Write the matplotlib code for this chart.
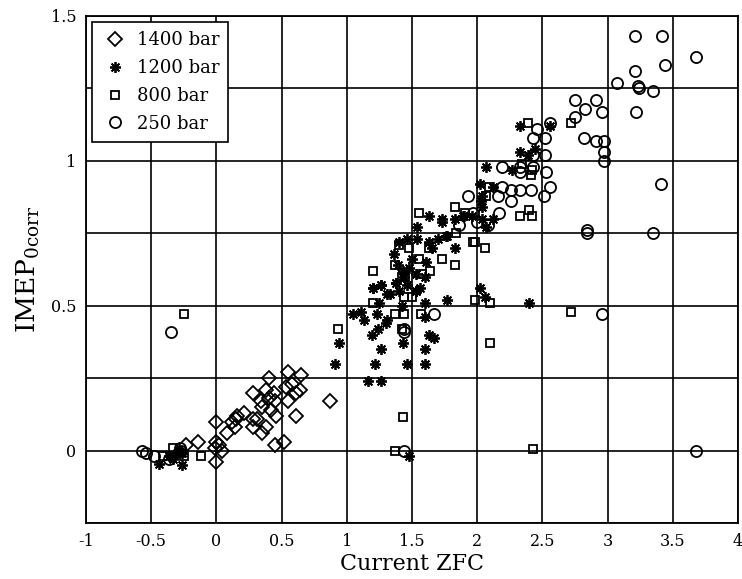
import numpy as np
import matplotlib
matplotlib.use("Agg")
import matplotlib.pyplot as plt

# 1400 bar (diamonds)
x1400 = [-0.23, -0.14, 0.0, -0.01, 0.0, 0.04, 0.0, 0.08, 0.14, 0.15, 0.16, 0.21, 0.28, 0.31,
         0.28, 0.38, 0.35, 0.35, 0.42, 0.46, 0.45, 0.52, 0.28, 0.34, 0.40, 0.38, 0.44, 0.53,
         0.55, 0.61, 0.65, 0.55, 0.45, 0.40, 0.58, 0.64, 0.61, 0.875, 0.12, 0.02]
y1400 = [0.02, 0.03, 0.10, 0.01, 0.03, 0.00, -0.04, 0.06, 0.08, 0.11, 0.12, 0.13, 0.11, 0.11,
         0.08, 0.08, 0.06, 0.15, 0.14, 0.12, 0.02, 0.03, 0.20, 0.17, 0.25, 0.21, 0.20, 0.22,
         0.27, 0.20, 0.26, 0.17, 0.17, 0.18, 0.23, 0.21, 0.12, 0.17, 0.10, 0.02]

# 1200 bar (asterisks)
x1200 = [-0.44, -0.26, -0.36, -0.30, -0.33, -0.26, -0.29,
         0.91, 0.94, 1.16, 1.26, 1.22, 1.26, 1.19, 1.24, 1.05, 1.11, 1.13, 1.23, 1.31, 1.20, 1.26,
         1.25, 1.31, 1.43, 1.46, 1.60, 1.60, 1.63, 1.67, 1.60, 1.60, 1.38, 1.44, 1.53, 1.30, 1.48,
         2.40, 2.02, 2.06, 1.77,
         1.63, 1.73, 1.54, 1.54, 1.40, 1.46, 1.63, 1.70, 1.77, 1.65, 1.83, 1.61, 1.39, 1.48, 1.43,
         1.53, 1.60, 1.20, 1.26, 1.38, 1.46, 1.40, 1.53, 1.33, 1.90,
         2.33, 2.56, 2.33, 2.44, 2.39, 2.07, 2.27, 2.02, 2.12, 2.04, 2.03, 2.04, 1.73, 1.83, 1.89,
         1.96, 2.04, 2.12, 2.07, 1.76, 1.50, 1.36, 1.42, 1.56]
y1200 = [-0.045, -0.05, -0.02, -0.01, -0.03, -0.01, 0.00,
         0.30, 0.37, 0.24, 0.24, 0.30, 0.35, 0.40, 0.42, 0.47, 0.48, 0.45, 0.47, 0.45, 0.56, 0.57,
         0.51, 0.54, 0.37, 0.30, 0.35, 0.30, 0.40, 0.39, 0.46, 0.51, 0.58, 0.60, 0.55, 0.44, -0.02,
         0.51, 0.56, 0.53, 0.52,
         0.81, 0.79, 0.77, 0.73, 0.72, 0.73, 0.72, 0.73, 0.74, 0.70, 0.70, 0.65, 0.64, 0.63, 0.62,
         0.61, 0.60, 0.56, 0.57, 0.58, 0.57, 0.55, 0.55, 0.54, 0.81,
         1.12, 1.12, 1.03, 1.04, 1.02, 0.98, 0.97, 0.92, 0.91, 0.88, 0.86, 0.84, 0.80, 0.80, 0.81,
         0.81, 0.80, 0.80, 0.77, 0.74, 0.66, 0.68, 0.50, 0.56]

# 800 bar (squares)
x800 = [-0.25, 0.93, -0.33, -0.41, -0.25, -0.12, -0.28, 1.37, 1.43, 2.43, 2.72, 2.10, 1.98, 2.10,
        1.37, 1.44, 1.57, 1.42, 1.55, 1.83, 1.84, 1.48, 1.73, 1.55, 1.20, 1.37, 1.64, 1.83, 1.42,
        1.98, 2.39, 2.34, 2.42, 2.41, 2.09, 2.07, 1.91, 2.33, 2.40, 2.42, 2.72, 2.06, 1.40, 1.63,
        1.97, 1.20, 1.44, 1.50, 1.58, 1.45]
y800 = [0.47, 0.42, 0.01, -0.02, -0.02, -0.02, -0.01, 0.00, 0.115, 0.007, 0.48, 0.37, 0.52, 0.51,
        0.47, 0.47, 0.47, 0.42, 0.82, 0.84, 0.75, 0.70, 0.66, 0.66, 0.62, 0.64, 0.62, 0.64, 0.60,
        0.72, 1.13, 0.99, 0.97, 0.95, 0.91, 0.88, 0.82, 0.81, 0.83, 0.81, 1.13, 0.70, 0.71, 0.70,
        0.72, 0.51, 0.53, 0.53, 0.61, 0.60]

# 250 bar (circles)
x250 = [-0.57, -0.54, -0.48, -0.36, -0.27, -0.28, -0.35, 1.44, 1.44, 1.67, 1.44, 3.68, 2.96,
        2.84, 2.84, 3.35, 3.41, 2.97, 2.97, 2.97, 2.91, 2.82, 3.22, 2.75, 2.96, 2.83, 2.91, 2.75,
        3.35, 3.24, 3.23, 3.07, 3.44, 3.21, 3.68, 3.42, 3.21,
        2.56, 2.46, 2.43, 2.52, 2.43, 2.52, 2.19, 2.33, 2.43, 2.33, 2.53, 2.19, 2.26, 2.33, 2.41,
        2.56, 2.51, 1.93, 2.16, 2.26, 2.17, 1.97, 1.86, 2.00, 2.08]
y250 = [0.00, -0.01, -0.02, -0.03, 0.00, 0.01, 0.41, 0.41, 0.42, 0.47, 0.00, 0.00, 0.47,
        0.76, 0.75, 0.75, 0.92, 1.00, 1.03, 1.07, 1.07, 1.08, 1.17, 1.15, 1.17, 1.18, 1.21, 1.21,
        1.24, 1.25, 1.26, 1.27, 1.33, 1.31, 1.36, 1.43, 1.43,
        1.13, 1.11, 1.08, 1.08, 1.02, 1.02, 0.98, 0.98, 0.98, 0.96, 0.96, 0.91, 0.90, 0.90, 0.90,
        0.91, 0.88, 0.88, 0.88, 0.86, 0.82, 0.82, 0.78, 0.79, 0.78]

series_labels = ["1400 bar", "1200 bar", "800 bar", "250 bar"]
xtick_vals = [-1, -0.5, 0, 0.5, 1, 1.5, 2, 2.5, 3, 3.5, 4]
xtick_labels = ["-1", "-0.5", "0", "0.5", "1", "1.5", "2", "2.5", "3", "3.5", "4"]
ytick_vals = [0, 0.5, 1, 1.5]
ytick_labels = ["0", "0.5", "1", "1.5"]
yminor_vals = [-0.25, 0.25, 0.75, 1.25]

plt.rcParams['font.family'] = 'DejaVu Serif'
plt.rcParams['mathtext.fontset'] = 'custom'
plt.rcParams['mathtext.rm'] = 'DejaVu Serif'

fig = plt.figure(figsize=(7.42, 5.79), dpi=100)
ax = fig.add_axes([0.1159, 0.0967, 0.8787, 0.8757])

mk = dict(linestyle='none', color='black', markerfacecolor='none', markeredgewidth=1.3)
ax.plot(x1400, y1400, marker='D', markersize=6.8, label=series_labels[0], **mk)
ax.plot(x1200, y1200, marker=(8, 2, 0), markersize=7.8, label=series_labels[1], **mk)
ax.plot(x800, y800, marker='s', markersize=6.0, label=series_labels[2], **mk)
ax.plot(x250, y250, marker='o', markersize=8.0, label=series_labels[3], **mk)

ax.set_xlim(-1, 4)
ax.set_ylim(-0.25, 1.5)
ax.set_xticks(xtick_vals)
ax.set_xticklabels(xtick_labels)
ax.set_yticks(ytick_vals)
ax.set_yticklabels(ytick_labels)
ax.set_yticks(yminor_vals, minor=True)
ax.grid(True, which='both', color='black', linewidth=1.2)
ax.set_axisbelow(True)
ax.tick_params(which='both', direction='in', length=0, labelsize=11.5, pad=7)
for s in ax.spines.values():
    s.set_linewidth(1.3)

ax.set_xlabel("Current ZFC", fontsize=16, labelpad=2)
ax.set_ylabel(r"IMEP$_{\rm 0corr}$", fontsize=19, labelpad=6)

leg = ax.legend(loc='upper left', fontsize=13, frameon=True, fancybox=False,
                borderaxespad=0.33, handlelength=1.6, handletextpad=0.37,
                labelspacing=0.55, borderpad=0.5, framealpha=1)
leg.get_frame().set_edgecolor('black')
leg.get_frame().set_linewidth(1.2)

fig.savefig("out.png", dpi=100)
